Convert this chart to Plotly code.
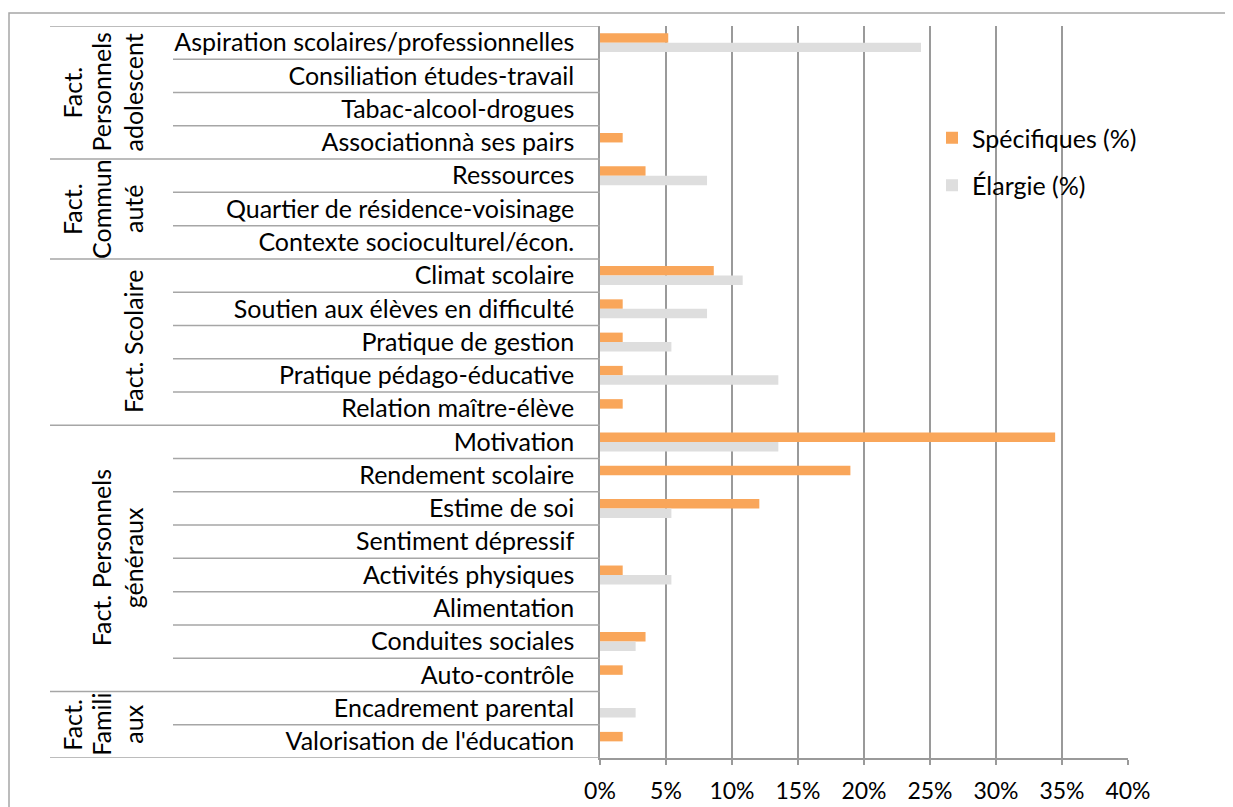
import plotly.graph_objects as go

categories = [
    "Aspiration scolaires/professionnelles",
    "Consiliation études-travail",
    "Tabac-alcool-drogues",
    "Associationnà ses pairs",
    "Ressources",
    "Quartier de résidence-voisinage",
    "Contexte socioculturel/écon.",
    "Climat scolaire",
    "Soutien aux élèves en difficulté",
    "Pratique de gestion",
    "Pratique pédago-éducative",
    "Relation maître-élève",
    "Motivation",
    "Rendement scolaire",
    "Estime de soi",
    "Sentiment dépressif",
    "Activités physiques",
    "Alimentation",
    "Conduites sociales",
    "Auto-contrôle",
    "Encadrement parental",
    "Valorisation de l'éducation",
]
specifiques = [5.17, 0, 0, 1.72, 3.45, 0, 0, 8.62, 1.72, 1.72, 1.72, 1.72,
               34.48, 18.97, 12.07, 0, 1.72, 0, 3.45, 1.72, 0, 1.72]
elargie = [24.32, 0, 0, 0, 8.11, 0, 0, 10.81, 8.11, 5.41, 13.51, 0,
           13.51, 0, 5.41, 0, 5.41, 0, 2.70, 0, 2.70, 0]
series_names = ["Spécifiques (%)", "Élargie (%)"]
group_lines = [
    ["Fact.", "Personnels", "adolescent"],
    ["Fact.", "Commun", "auté"],
    ["Fact. Scolaire"],
    ["Fact. Personnels", "généraux"],
    ["Fact.", "Famili", "aux"],
]
group_sizes = [4, 3, 5, 8, 2]
x_ticks = [0, 5, 10, 15, 20, 25, 30, 35, 40]
x_ticktext = ["0%", "5%", "10%", "15%", "20%", "25%", "30%", "35%", "40%"]

# page body adds an 8px margin; work in screenshot pixels and shift
OFF = 8
W, H = 1233 - OFF, 807 - OFF
PLOT_X0, PLOT_X1 = 600, 1128     # screenshot px of 0% and 40%
PLOT_Y0, PLOT_Y1 = 26, 758       # screenshot px of top / bottom of plot
L = PLOT_X0 - OFF
R = W - (PLOT_X1 - OFF)
T = PLOT_Y0 - OFF
B = H - (PLOT_Y1 - OFF)
PW = PLOT_X1 - PLOT_X0
PH = PLOT_Y1 - PLOT_Y0
FONT = "Lato, Carlito, Calibri, sans-serif"
FS = 25


def px_to_paper_x(px):
    return (px - PLOT_X0) / PW


def px_to_paper_y(py):
    return 1 - (py - PLOT_Y0) / PH


fig = go.Figure()
fig.add_trace(go.Bar(y=categories, x=specifiques, orientation="h",
                     name=series_names[0], marker_color="#F9A65A",
                     marker_line_width=0, legendgroup="a"))
fig.add_trace(go.Bar(y=categories, x=elargie, orientation="h",
                     name=series_names[1], marker_color="#DEDEDE",
                     marker_line_width=0, legendgroup="b"))

shapes = []
# outer border of the chart
shapes.append(dict(type="rect", xref="paper", yref="paper",
                   x0=px_to_paper_x(9), x1=px_to_paper_x(1260),
                   y0=px_to_paper_y(840), y1=px_to_paper_y(13),
                   line=dict(color="#A6A6A6", width=1.5), layer="below"))

# separators in label area
boundaries = [0]
for s in group_sizes:
    boundaries.append(boundaries[-1] + s)
for i in range(len(categories) + 1):
    start_px = 50 if i in boundaries else 173
    shapes.append(dict(type="line", xref="paper", yref="y",
                       x0=px_to_paper_x(start_px), x1=0,
                       y0=i - 0.5, y1=i - 0.5,
                       line=dict(color="#A6A6A6", width=1.5)))

annotations = []
line_x = [72, 101, 133]
for lines, a, b in zip(group_lines, boundaries[:-1], boundaries[1:]):
    yc = (a + b - 1) / 2
    xs = line_x[3 - len(lines):]
    for txt, xp in zip(lines, xs):
        annotations.append(dict(text=txt, textangle=-90, xref="paper", yref="y",
                                x=px_to_paper_x(xp), y=yc, showarrow=False,
                                xanchor="center", yanchor="middle",
                                font=dict(size=FS, color="black", family=FONT)))

fig.update_layout(
    width=W, height=H,
    margin=dict(l=L, r=R, t=T, b=B, autoexpand=False),
    paper_bgcolor="white", plot_bgcolor="white",
    barmode="group", bargap=0.43, bargroupgap=0,
    font=dict(family=FONT, size=FS, color="black"),
    shapes=shapes, annotations=annotations,
    legend=dict(x=px_to_paper_x(932), y=px_to_paper_y(115), xanchor="left", yanchor="top",
                bgcolor="rgba(0,0,0,0)", font=dict(size=FS, family=FONT),
                traceorder="grouped", tracegroupgap=12),
    xaxis=dict(range=[0, 40], tickvals=x_ticks, ticktext=x_ticktext,
               showgrid=True, gridcolor="#9A9A9A", gridwidth=1.5,
               showline=True, linecolor="#9A9A9A", linewidth=1.5,
               ticks="outside", ticklen=5, tickcolor="#9A9A9A", tickwidth=1.5,
               ticklabelstandoff=7, zeroline=False, automargin=False,
               tickfont=dict(size=23, family=FONT, color="black")),
    yaxis=dict(type="category", categoryorder="array", categoryarray=categories,
               range=[len(categories) - 0.5, -0.5],
               showgrid=False, showline=True, linecolor="#9A9A9A", linewidth=1.5,
               ticks="", ticklabelstandoff=19, automargin=False,
               tickfont=dict(size=FS, family=FONT, color="black")),
)

fig.write_html("out.html")
